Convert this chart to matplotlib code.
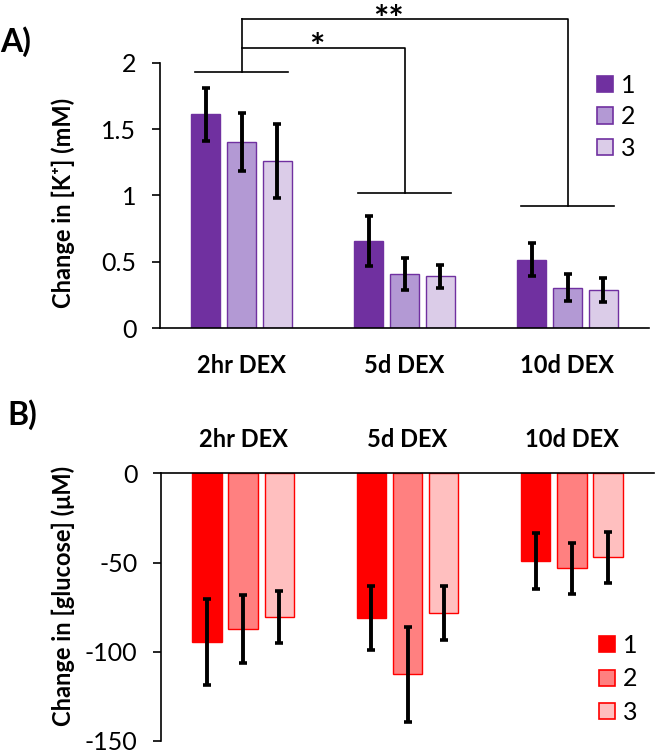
import matplotlib
matplotlib.use("Agg")
import matplotlib.pyplot as plt
import numpy as np
from matplotlib.patches import Patch

plt.rcParams['font.family'] = ['Lato', 'DejaVu Sans']

groups = ["2hr DEX", "5d DEX", "10d DEX"]
series = ["1", "2", "3"]

k_vals = {"1": [1.61, 0.656, 0.514], "2": [1.40, 0.41, 0.305], "3": [1.26, 0.39, 0.285]}
k_err = {"1": [0.20, 0.185, 0.125], "2": [0.22, 0.12, 0.10], "3": [0.28, 0.085, 0.09]}

g_vals = {"1": [-94.7, -80.9, -49.0], "2": [-87.4, -112.7, -53.3], "3": [-80.4, -78.3, -47.1]}
g_err = {"1": [24.0, 18.0, 15.6], "2": [19.0, 26.6, 14.2], "3": [14.6, 15.0, 14.2]}

purple_fill = ["#7030A0", "#B399D4", "#DBCCE8"]
purple_edge = ["#7030A0", "#7030A0", "#7030A0"]
red_fill = ["#FF0000", "#FF8080", "#FFBFBF"]
red_edge = ["#FF0000", "#FF0000", "#FF0000"]

W, H = 657, 750
fig = plt.figure(figsize=(W / 100, H / 100), dpi=100)

def px_axes(l, r, t, b):
    return fig.add_axes([l / W, 1 - b / H, (r - l) / W, (b - t) / H])

axA = px_axes(160, 649, 62.7, 328)
axB = px_axes(161, 654, 473.3, 741)

x = np.arange(len(groups))
offsets = [-0.22, 0.0, 0.22]
bw = 0.18
ekw = dict(elinewidth=2.8, capsize=2.6, capthick=2.6, ecolor='black')

for i, s in enumerate(series):
    axA.bar(x + offsets[i], k_vals[s], bw, yerr=k_err[s], color=purple_fill[i],
            edgecolor=purple_edge[i], linewidth=1.0, error_kw=ekw, zorder=2)
    axB.bar(x + offsets[i], g_vals[s], bw, yerr=g_err[s], color=red_fill[i],
            edgecolor=red_edge[i], linewidth=1.0, error_kw=ekw, zorder=2)

lw_sp = 1.2
tick_fs = 18
# Panel A styling
axA.set_xlim(-0.5, 2.5)
axA.set_ylim(0, 2)
axA.set_yticks([0, 0.5, 1, 1.5, 2])
axA.set_yticklabels(["0", "0.5", "1", "1.5", "2"])
axA.set_xticks(x)
axA.set_xticklabels(groups, fontweight='bold', fontsize=17)
axA.tick_params(axis='x', length=0, pad=19)
axA.tick_params(axis='y', length=6, width=lw_sp, labelsize=tick_fs, pad=11, direction='out')
for sp in ['top', 'right']:
    axA.spines[sp].set_visible(False)
for sp in ['left', 'bottom']:
    axA.spines[sp].set_linewidth(lw_sp)

# Significance brackets
bl = dict(color='black', linewidth=1.2, clip_on=False, zorder=3)
hw = 0.285
axA.plot([0 - hw, 0 + hw], [1.93, 1.93], **bl)
axA.plot([1 - hw, 1 + hw], [1.015, 1.015], **bl)
axA.plot([2 - hw, 2 + hw], [0.92, 0.92], **bl)
axA.plot([0, 0], [1.93, 2.33], **bl)
axA.plot([0, 1, 1], [2.11, 2.11, 1.015], **bl)
axA.plot([0, 2, 2], [2.33, 2.33, 0.92], **bl)
axA.text(0.46, 2.03, "*", ha='center', va='baseline', fontsize=26, fontweight='bold', clip_on=False)
axA.text(0.90, 2.24, "**", ha='center', va='baseline', fontsize=26, fontweight='bold', clip_on=False)

# Panel B styling
axB.set_xlim(-0.5, 2.5)
axB.set_ylim(-150, 0)
axB.set_yticks([0, -50, -100, -150])
axB.set_yticklabels(["0", "-50", "-100", "-150"])
axB.xaxis.tick_top()
axB.set_xticks(x)
axB.set_xticklabels(groups, fontweight='bold', fontsize=17)
axB.tick_params(axis='x', length=0, pad=16)
axB.tick_params(axis='y', length=6, width=lw_sp, labelsize=tick_fs, pad=11, direction='out')
for sp in ['bottom', 'right']:
    axB.spines[sp].set_visible(False)
for sp in ['left', 'top']:
    axB.spines[sp].set_linewidth(lw_sp)

# Legends
def make_legend(ax, fills, edges, anchor, spacing):
    handles = [Patch(facecolor=fills[i], edgecolor=edges[i], linewidth=1.2, label=s)
               for i, s in enumerate(series)]
    ax.legend(handles=handles, loc='upper left', bbox_to_anchor=anchor,
              bbox_transform=fig.transFigure, frameon=False, fontsize=18,
              handlelength=0.62, handleheight=0.62, handletextpad=0.35,
              labelspacing=spacing, borderpad=0, borderaxespad=0)

make_legend(axA, purple_fill, purple_edge, (597 / W, 1 - 74 / H), 0.33)
make_legend(axB, red_fill, red_edge, (599 / W, 1 - 634 / H), 0.42)

# Axis labels
fig.text(63 / W, 1 - 203 / H, "Change in [K\u207A] (mM)", rotation=90,
         ha='center', va='center', fontsize=17, fontweight='bold')
fig.text(63 / W, 1 - 596 / H, "Change in [glucose] (\u03bcM)", rotation=90,
         ha='center', va='center', fontsize=17, fontweight='bold')

# Panel labels
fig.text(16 / W, 1 - 42 / H, "A)", ha='center', va='center', fontsize=23, fontweight='bold')
fig.text(22 / W, 1 - 415 / H, "B)", ha='center', va='center', fontsize=23, fontweight='bold')

fig.savefig("out.png", dpi=100)
